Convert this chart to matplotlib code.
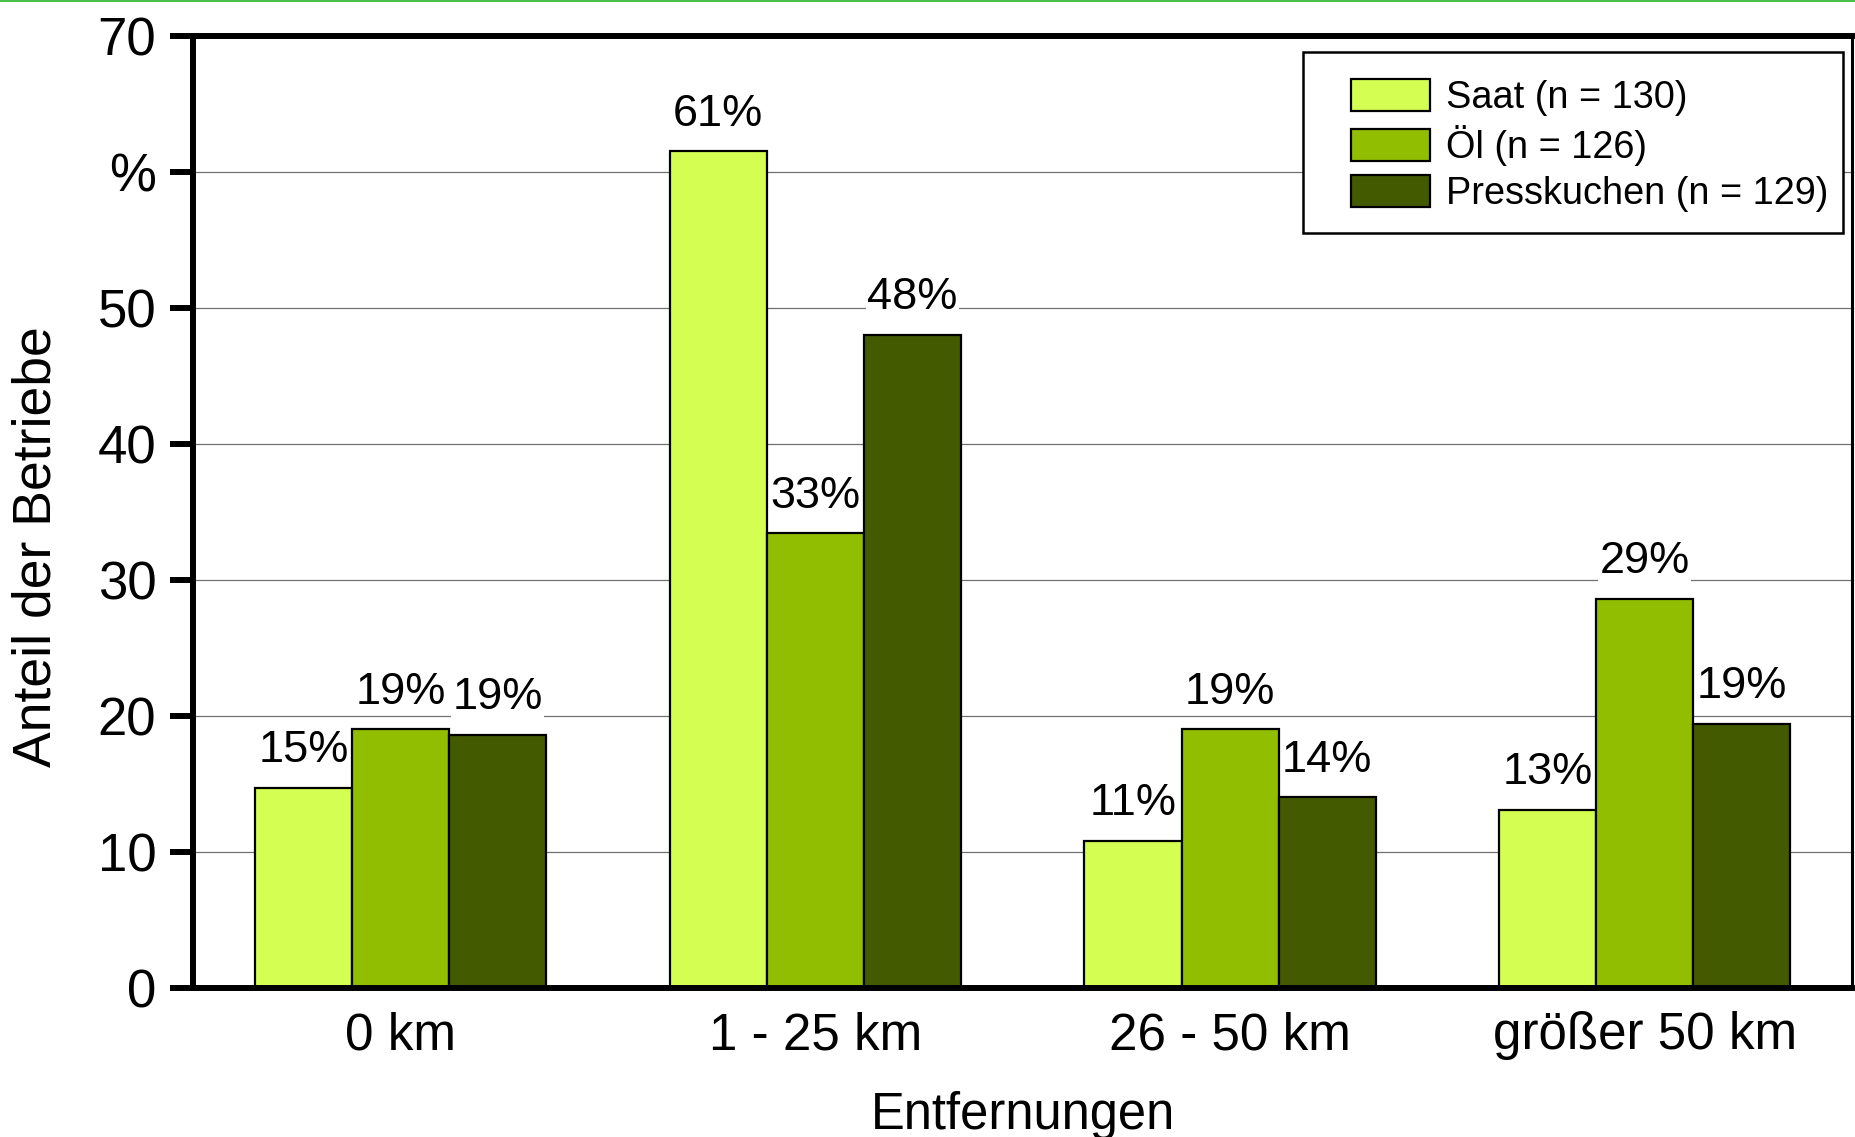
import numpy as np
import matplotlib
matplotlib.use("Agg")
import matplotlib.pyplot as plt
from matplotlib.lines import Line2D
from matplotlib.patches import Rectangle

plt.rcParams['font.family'] = ['Liberation Sans', 'DejaVu Sans']

# Data
categories = ['0 km', '1 - 25 km', '26 - 50 km', 'größer 50 km']
series_names = ['Saat (n = 130)', 'Öl (n = 126)', 'Presskuchen (n = 129)']
saat = [14.7, 61.5, 10.8, 13.1]
oel = [19.0, 33.4, 19.0, 28.6]
presskuchen = [18.6, 48.0, 14.0, 19.4]
saat_labels = ['15%', '61%', '11%', '13%']
oel_labels = ['19%', '33%', '19%', '29%']
press_labels = ['19%', '48%', '14%', '19%']
yticks = [0, 10, 20, 30, 40, 50, 60, 70]
ytick_labels = ['0', '10', '20', '30', '40', '50', '%', '70']

colors = ['#D4FF52', '#91BE00', '#445A00']

fig = plt.figure(figsize=(18.56, 11.37), dpi=100)
ax = fig.add_axes([0.104, 0.1313, 0.894, 0.8373])

x = np.arange(len(categories))
width = 0.234

all_values = [saat, oel, presskuchen]
all_labels = [saat_labels, oel_labels, press_labels]

for i, (vals, labs) in enumerate(zip(all_values, all_labels)):
    bars = ax.bar(x + (i - 1) * width, vals, width, color=colors[i],
                  edgecolor='black', linewidth=1.6, label=series_names[i],
                  zorder=2)
    for rect, lab in zip(bars, labs):
        ax.annotate(lab, (rect.get_x() + rect.get_width() / 2, rect.get_height()),
                    xytext=(0, 12), textcoords='offset points',
                    ha='center', va='bottom', fontsize=32.5, zorder=3,
                    bbox=dict(facecolor='white', edgecolor='none', pad=1))

ax.set_xlim(-0.5, 3.5)
ax.set_ylim(0, 70)
ax.set_yticks(yticks)
ax.set_yticklabels(ytick_labels)
ax.set_xticks(x)
ax.set_xticklabels(categories)

ax.tick_params(axis='y', direction='out', length=16.5, width=4.3,
               labelsize=38, pad=10)
ax.tick_params(axis='x', length=0, labelsize=36.8, pad=17)

ax.yaxis.grid(True, color='#707070', linewidth=0.9)
ax.set_axisbelow(True)

for side in ['left', 'bottom', 'top']:
    ax.spines[side].set_linewidth(4.3)
ax.spines['right'].set_linewidth(2.2)

ax.set_ylabel('Anteil der Betriebe', fontsize=38.5, va='center')
ax.yaxis.set_label_coords(-0.0945, 0.463)
ax.set_xlabel('Entfernungen', fontsize=36.5, va='top')
ax.xaxis.set_label_coords(0.5, -0.108)

# legend frame drawn separately: the original has a wider gap on the left
ax.add_patch(Rectangle((0.669, 0.7928), 0.9944 - 0.669, 0.9829 - 0.7928,
                       transform=ax.transAxes, facecolor='white',
                       edgecolor='black', linewidth=1.8, zorder=4))
leg = ax.legend(loc='upper left', bbox_to_anchor=(0.6977, 0.9545),
                borderaxespad=0, borderpad=0, fontsize=27.3, frameon=False,
                handlelength=2.08, handleheight=0.94, handletextpad=0.44,
                labelspacing=0.23)
leg.set_zorder(5)

# thin green line along the very top edge of the picture
fig.add_artist(Line2D([0, 1], [0.9995, 0.9995], transform=fig.transFigure,
                      color='#22B422', linewidth=1.2))

fig.savefig('out.png', dpi=100)
